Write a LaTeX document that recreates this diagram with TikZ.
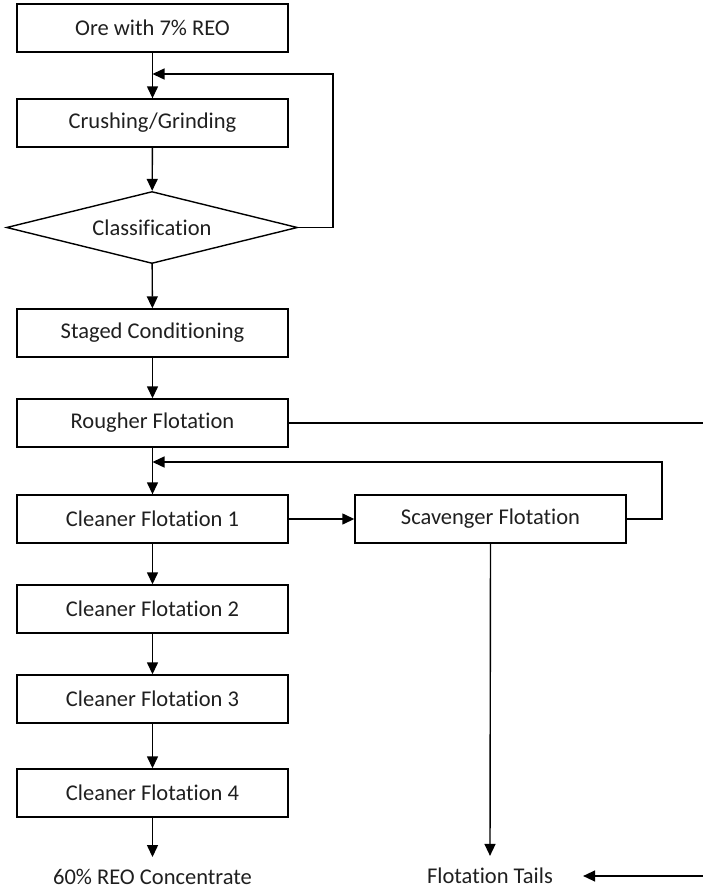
\documentclass[tikz,border=0pt]{standalone}
\usepackage{fontspec}
\setmainfont{Carlito}[Ligatures=NoCommon]
\usetikzlibrary{arrows.meta,shapes.geometric}
\begin{document}
\begin{tikzpicture}[x=1pt,y=-1pt,
  every node/.style={font=\fontsize{22.5}{26}\selectfont, text=black!88},
  procbox/.style={draw, line width=1.4pt, minimum width=271pt, minimum height=48pt, inner sep=0pt},
  decision/.style={draw, diamond, aspect=4.04, line width=1.4pt, minimum width=291pt, minimum height=72pt, inner sep=0pt},
  outlabel/.style={inner xsep=2pt, inner ysep=12pt},
  flow/.style={line width=1.4pt},
  arr/.style={flow, -{Triangle[length=12pt,width=11pt]}}]
\useasboundingbox (0,0) rectangle (703,889);

% main process column
\node[procbox]  (ore)   at (152.5,28)  {Ore with 7\% REO};
\node[procbox]  (crush) at (152.5,123) {Crushing/Grinding};
\node[decision] (cls)   at (152,227.5) {Classification};
\node[procbox]  (stage) at (152.5,333) {Staged Conditioning};
\node[procbox]  (rough) at (152.5,423) {Rougher Flotation};
\node[procbox]  (c1)    at (152.5,519) {Cleaner Flotation 1};
\node[procbox]  (c2)    at (152.5,609) {Cleaner Flotation 2};
\node[procbox]  (c3)    at (152.5,699) {Cleaner Flotation 3};
\node[procbox]  (c4)    at (152.5,793) {Cleaner Flotation 4};
\node[procbox]  (scav)  at (490.5,519) {Scavenger Flotation};

% products
\node[outlabel] (conc)  at (152.5,877) {60\% REO Concentrate};
\node[outlabel] (tails) at (490,876)   {Flotation Tails};

% junctions and free ends
\coordinate (j1) at (152.5,74);
\coordinate (j2) at (152.5,462);
\coordinate (rout) at (703,423);
\coordinate (tin) at (703,876);

% straight-through flow
\draw[flow] (ore) -- (crush);
\draw[arr] (crush) -- (cls);
\draw[arr] (cls) -- (stage);
\draw[arr] (stage) -- (rough);
\draw[flow] (rough) -- (c1);
\draw[arr] (j1) -- (crush);
\draw[arr] (j2) -- (c1);
\draw[arr] (c1) -- (c2);
\draw[arr] (c2) -- (c3);
\draw[arr] (c3) -- (c4);
\draw[arr] (c4) -- (conc.north);

% oversize return to grinding
\draw[arr] (cls.east) -- (333,227.5) -- (333,74) -- (j1);

% rougher tails
\draw[flow] (rough.east) -- (rout);

% cleaner tails to scavenger and scavenger return
\draw[arr] (c1.east) -- (scav.west);
\draw[arr] (scav.east) -- (662,519) -- (662,462) -- (j2);

% final tails
\draw[arr] (scav.south) -- (tails.north);
\draw[arr, shorten >=28pt] (tin) -- (tails.east);
\end{tikzpicture}
\end{document}
